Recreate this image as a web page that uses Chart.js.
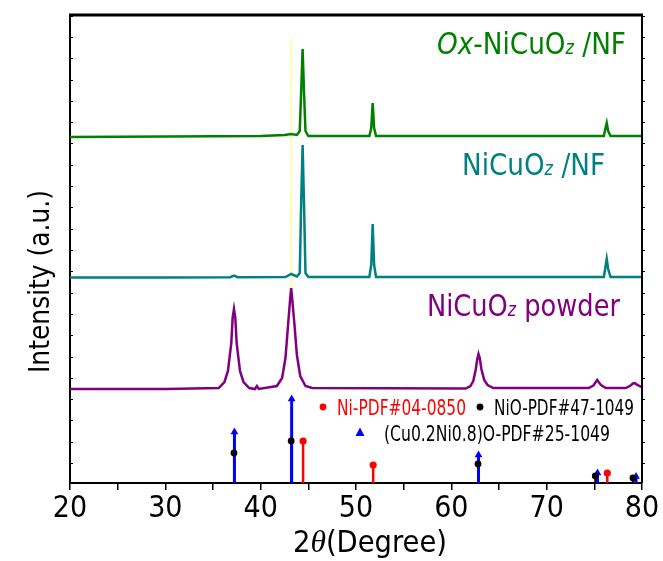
<!DOCTYPE html>
<html>
<head>
<meta charset="utf-8">
<script src="https://cdn.jsdelivr.net/npm/chart.js@4.4.1/dist/chart.umd.min.js"></script>
<style>
  html, body { margin: 0; padding: 0; background: #fff; }
  #wrap { width: 663px; height: 561px; position: relative; }
</style>
</head>
<body>
<div id="wrap"><canvas id="xrd"></canvas></div>
<script>
// 2-theta range and labelled ticks
const thetaMin = 20;
const thetaMax = 80;
const thetaTicks = [20, 30, 40, 50, 60, 70, 80];

// Ox-NiCuOz/NF scan (stacked, a.u.)
const oxTheta = [20, 30, 40, 42.5, 43.2, 43.8, 44.1, 44.25, 44.4, 44.55, 44.7, 45, 51.4, 51.6, 51.75, 51.9, 52.1, 76, 76.15, 76.3, 76.45, 76.7, 80];
const oxIntensity = [346, 346.5, 347, 348, 349, 348, 352, 392, 434, 390, 352, 347, 347, 355, 380, 355, 347, 347, 354, 360, 352, 347, 347];

// NiCuOz/NF scan
const nfTheta = [20, 30, 36.8, 37.2, 37.6, 42.6, 43.2, 43.8, 44.1, 44.25, 44.4, 44.55, 44.7, 45, 51.4, 51.6, 51.75, 51.9, 52.1, 76, 76.15, 76.3, 76.45, 76.7, 80];
const nfIntensity = [205.5, 205.5, 205.8, 207.5, 205.8, 206, 209, 206.5, 210, 280, 338, 278, 210, 206, 206, 218, 259, 218, 206, 206, 215, 224, 214, 206, 206];

// NiCuOz powder scan
const powderTheta = [20, 30, 35.6, 36.2, 36.57, 36.92, 37.06, 37.2, 37.34, 37.48, 37.83, 38.2, 38.8, 39.4, 39.6, 39.8, 41.7, 42.25, 42.6, 42.85, 43.1, 43.2, 43.3, 43.55, 43.8, 44.15, 44.7, 45.4, 61.5, 62.0, 62.3, 62.55, 62.72, 62.85, 62.98, 63.15, 63.45, 63.8, 64.4, 74.4, 74.9, 75.15, 75.3, 75.45, 75.7, 76.2, 78.3, 78.8, 79.05, 79.25, 79.5, 80];
const powderIntensity = [94, 94, 95, 101, 112, 140, 165, 174, 165, 140, 112, 101, 95, 94, 97, 94, 97, 105, 125, 155, 185, 195, 185, 158, 128, 107, 97, 95, 94.5, 97, 102, 113, 124, 129, 125, 114, 103, 98, 95, 95, 97.5, 101, 103, 101, 98, 95, 95, 97.5, 99.5, 100, 98, 96];

// guide line at the NiO (200) position
const guideTheta = 43.2;
const guideRange = [195, 445];

// reference patterns (relative intensity, a.u.)
const niPos = [44.45, 51.8, 76.36];
const niRel = [42, 18, 10];
const nioPos = [37.2, 43.2, 62.8, 75.1, 79.05];
const nioRel = [30, 42, 19, 7, 5];
const cuniPos = [37.25, 43.25, 62.85, 75.33, 79.37];
const cuniRel = [51, 84, 28, 10, 6.5];

const toPoints = (xs, ys) => xs.map((x, i) => ({ x: x, y: ys[i] }));

// each stick: baseline -> top, then a gap
const toSticks = (xs, hs) => {
  const pts = [];
  xs.forEach((x, i) => {
    pts.push({ x: x, y: 0 }, { x: x, y: hs[i] }, { x: x, y: null });
  });
  return pts;
};

const topOnly = (r) => (ctx) => (ctx.raw && ctx.raw.y > 0 ? r : 0);

const scanStyle = (color) => ({
  borderColor: color,
  borderWidth: 2.5,
  pointRadius: 0,
  tension: 0,
  fill: false
});

const datasets = [
  Object.assign({ data: toPoints(oxTheta, oxIntensity), order: 10 }, scanStyle('#008000')),
  Object.assign({ data: toPoints(nfTheta, nfIntensity), order: 10 }, scanStyle('#008080')),
  Object.assign({ data: toPoints(powderTheta, powderIntensity), order: 10 }, scanStyle('#800080')),
  {
    data: [{ x: guideTheta, y: guideRange[0] }, { x: guideTheta, y: guideRange[1] }],
    borderColor: '#ffff66', borderWidth: 1, pointRadius: 0, order: 12
  },
  {
    // NiO stems sit underneath the (Cu,Ni)O stems
    data: toSticks(nioPos, nioRel),
    borderColor: '#000', borderWidth: 2, pointRadius: 0, spanGaps: false, order: 6
  },
  {
    data: toSticks(cuniPos, cuniRel),
    borderColor: '#0000ff', backgroundColor: '#0000ff', borderWidth: 3,
    pointStyle: 'triangle', pointRadius: topOnly(4.5), pointBorderWidth: 0,
    spanGaps: false, order: 5
  },
  {
    data: toSticks(niPos, niRel),
    borderColor: '#ff0000', backgroundColor: '#ff0000', borderWidth: 2.5,
    pointRadius: topOnly(3.6), pointBorderWidth: 0, spanGaps: false, order: 4
  },
  {
    data: toPoints(nioPos, nioRel),
    showLine: false, backgroundColor: '#000', borderColor: '#000',
    pointRadius: 3.4, pointBorderWidth: 0, order: 3
  }
];

const FONT = '"DejaVu Sans Condensed", "DejaVu Sans", sans-serif';

// draw a run of differently styled pieces, squeezed to a given width
function drawRich(ctx, parts, x, baseline, width, color) {
  let total = 0;
  parts.forEach(p => {
    ctx.font = p.font;
    p.w = ctx.measureText(p.t).width;
    total += p.w;
  });
  const sx = width ? width / total : 1;
  ctx.save();
  ctx.translate(x, baseline);
  ctx.scale(sx, 1);
  ctx.fillStyle = color;
  ctx.textBaseline = 'alphabetic';
  ctx.textAlign = 'left';
  let cx = 0;
  parts.forEach(p => {
    ctx.font = p.font;
    ctx.fillText(p.t, cx, p.dy || 0);
    cx += p.w;
  });
  ctx.restore();
}

const decor = {
  id: 'decor',
  afterDraw(chart) {
    const ctx = chart.ctx;
    const a = chart.chartArea;
    const ys = chart.scales.y;

    ctx.save();
    // frame: top and right edges
    ctx.strokeStyle = '#000';
    ctx.lineWidth = 3;
    ctx.beginPath();
    ctx.moveTo(a.left - 1, a.top);
    ctx.lineTo(a.right + 1, a.top);
    ctx.stroke();
    ctx.lineWidth = 2;
    ctx.beginPath();
    ctx.moveTo(a.right, a.top);
    ctx.lineTo(a.right, a.bottom);
    ctx.stroke();

    // small y ticks, inside on the left and outside on the right
    ctx.lineWidth = 1;
    for (let v = 20; v < 468; v += 21.3) {
      const py = Math.round(ys.getPixelForValue(v)) + 0.5;
      ctx.beginPath();
      ctx.moveTo(a.left, py);
      ctx.lineTo(a.left + 3, py);
      ctx.moveTo(a.right, py);
      ctx.lineTo(a.right + 3, py);
      ctx.stroke();
    }

    // sample labels
    const big = '31px ' + FONT;
    const bigIt = 'italic 31px ' + FONT;
    const sub = 'italic 19px ' + FONT;
    drawRich(ctx, [
      { t: 'Ox', font: bigIt },
      { t: '-NiCuO', font: big },
      { t: 'z', font: sub },
      { t: ' /NF', font: big }
    ], 437, 54, 189, '#008000');
    drawRich(ctx, [
      { t: 'NiCuO', font: big },
      { t: 'z', font: sub },
      { t: ' /NF', font: big }
    ], 462, 175, 143, '#008080');
    drawRich(ctx, [
      { t: 'NiCuO', font: big },
      { t: 'z', font: sub },
      { t: ' powder', font: big }
    ], 427, 316, 193, '#800080');

    // reference legend
    const lg = '22px ' + FONT;
    ctx.fillStyle = '#ff0000';
    ctx.beginPath();
    ctx.arc(323, 407, 3.4, 0, Math.PI * 2);
    ctx.fill();
    drawRich(ctx, [{ t: 'Ni-PDF#04-0850', font: lg }], 337, 415, 129, '#ff0000');
    ctx.fillStyle = '#000';
    ctx.beginPath();
    ctx.arc(480, 407, 3.4, 0, Math.PI * 2);
    ctx.fill();
    drawRich(ctx, [{ t: 'NiO-PDF#47-1049', font: lg }], 494, 415, 140, '#000');
    ctx.fillStyle = '#0000ff';
    ctx.beginPath();
    ctx.moveTo(360, 427.5);
    ctx.lineTo(364.5, 436);
    ctx.lineTo(355.5, 436);
    ctx.closePath();
    ctx.fill();
    drawRich(ctx, [{ t: '(Cu0.2Ni0.8)O-PDF#25-1049', font: lg }], 384, 441, 226, '#000');

    // axis titles
    const tf = '30px ' + FONT;
    drawRich(ctx, [
      { t: '2', font: tf },
      { t: 'θ', font: 'italic 31px "Liberation Serif", serif' },
      { t: '(Degree)', font: tf }
    ], 293, 552, 154, '#000');

    ctx.save();
    ctx.translate(49, 373);
    ctx.rotate(-Math.PI / 2);
    drawRich(ctx, [{ t: 'Intensity (a.u.)', font: '29px ' + FONT }], 0, 0, 183, '#000');
    ctx.restore();

    ctx.restore();
  }
};

new Chart(document.getElementById('xrd'), {
  type: 'line',
  data: { datasets: datasets },
  options: {
    responsive: true,
    maintainAspectRatio: false,
    animation: false,
    events: [],
    layout: { padding: { top: 15, right: 21, left: 0, bottom: 0 } },
    plugins: {
      legend: { display: false },
      tooltip: { enabled: false }
    },
    scales: {
      x: {
        type: 'linear',
        min: thetaMin,
        max: thetaMax,
        afterBuildTicks: (scale) => {
          // majors every 10 degrees, minors halfway between
          const t = [];
          thetaTicks.forEach((v, i) => {
            t.push({ value: v });
            if (i < thetaTicks.length - 1) t.push({ value: v + 5 });
          });
          scale.ticks = t;
        },
        ticks: {
          callback: (v) => (thetaTicks.includes(v) ? String(v) : ''),
          font: { family: FONT, size: 30 },
          color: '#000',
          maxRotation: 0,
          autoSkip: false,
          padding: 1
        },
        grid: {
          drawOnChartArea: false,
          drawTicks: true,
          tickLength: 7,
          color: '#000',
          lineWidth: 1.5
        },
        border: { color: '#000', width: 2 },
        afterFit: (scale) => { scale.height = 78; }
      },
      y: {
        min: 0,
        max: 468,
        ticks: { display: false },
        grid: { display: false },
        border: { color: '#000', width: 2 },
        afterFit: (scale) => { scale.width = 70; }
      }
    }
  },
  plugins: [decor]
});
</script>
</body>
</html>
